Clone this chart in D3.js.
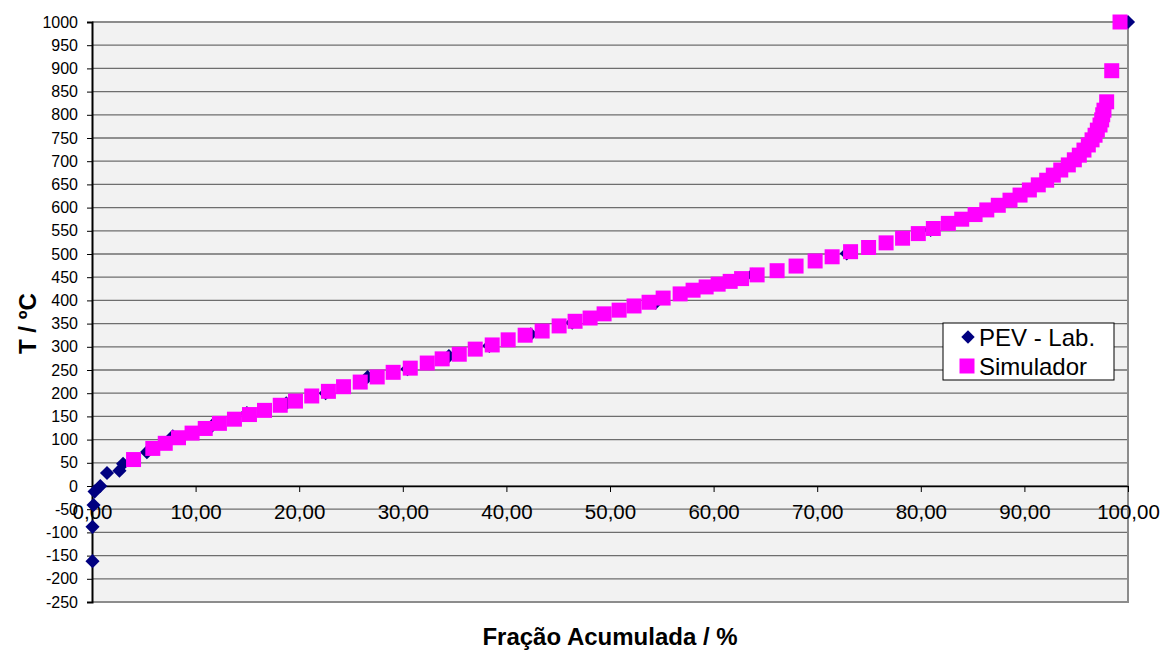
<!DOCTYPE html>
<html>
<head>
<meta charset="utf-8">
<script src="https://cdn.jsdelivr.net/npm/d3@7"></script>
<style>
    body { margin: 0; background: #fff; }
    svg { display: block; font-family: "Liberation Sans", Arial, sans-serif; }
</style>
</head>
<body>
<svg id="chart" width="1168" height="650"></svg>
<script>
// PEV (laboratório) - fração acumulada (%) x temperatura (ºC)
const pevFraction = [0.05, 0.05, 0.15, 0.25, 0.8, 1.45, 2.65, 3.0, 5.3, 7.8, 11.6, 14.95, 18.75, 22.55, 26.6, 30.45, 34.45, 38.35, 42.35, 46.35, 54.4, 63.75, 72.85, 80.95, 87.25, 100];
const pevTemp = [-162, -88, -41, -12, 0, 28, 33, 48, 73, 107, 130, 157, 178, 200, 235, 252, 280, 302, 327, 352, 395, 455, 501, 552, 605, 1000];

// Simulador
const simFraction = [4.01, 5.87, 7.07, 8.35, 9.66, 10.93, 12.30, 13.75, 15.20, 16.65,
    18.17, 19.64, 21.21, 22.82, 24.28, 25.89, 27.53, 29.07, 30.72, 32.36,
    33.80, 35.45, 36.99, 38.63, 40.17, 41.81, 43.45, 45.09, 46.63, 48.08,
    49.43, 50.88, 52.32, 53.77, 55.13, 56.77, 58.02, 59.28, 60.44, 61.60,
    62.70, 64.20, 66.13, 67.96, 69.80, 71.44, 73.22, 74.96, 76.65, 78.24,
    79.76, 81.21, 82.66, 83.95, 85.24, 86.37, 87.48, 88.61, 89.58, 90.48,
    91.34, 92.15, 92.79, 93.51, 94.24, 94.82, 95.30, 95.75, 96.17, 96.53,
    96.82, 97.04, 97.30, 97.46, 97.56, 97.68, 97.94, 98.43, 99.23];
const simTemp = [57, 81, 92, 104, 114, 124, 135, 144, 154, 163,
    174, 183, 194, 204, 214, 224, 235, 245, 254, 265,
    274, 284, 295, 304, 315, 325, 334, 345, 355, 362,
    371, 379, 388, 396, 405, 414, 422, 429, 435, 441,
    447, 455, 464, 474, 485, 494, 505, 514, 524, 534,
    544, 555, 566, 575, 585, 595, 605, 616, 627, 638,
    649, 659, 670, 681, 692, 703, 713, 724, 735, 746,
    756, 767, 778, 789, 800, 810, 828, 895, 1000];

const xTicks = d3.range(0, 101, 10);
const yTicks = d3.range(-250, 1001, 50);
const seriesNames = ['PEV - Lab.', 'Simulador'];

const W = 1168, H = 650;
const M = { top: 22, right: 40, bottom: 48, left: 92 };

const svg = d3.select('#chart');

const x = d3.scaleLinear().domain([0, 100]).range([M.left, W - M.right]);
const y = d3.scaleLinear().domain([-250, 1000]).range([H - M.bottom, M.top]);

// fundo da área de plotagem
svg.append('rect')
    .attr('x', x(0))
    .attr('y', y(1000))
    .attr('width', x(100) - x(0))
    .attr('height', y(-250) - y(1000))
    .attr('fill', '#f2f2f2');

// linhas de grade
svg.append('g')
    .selectAll('line')
    .data(yTicks)
    .join('line')
    .attr('x1', x(0))
    .attr('x2', x(100))
    .attr('y1', (d) => y(d))
    .attr('y2', (d) => y(d))
    .attr('stroke', '#6e6e6e')
    .attr('stroke-width', 1.3);

// bordas superior / direita / inferior
svg.append('path')
    .attr('d', `M${x(0)},${y(1000)}H${x(100)}V${y(-250)}H${x(0)}`)
    .attr('fill', 'none')
    .attr('stroke', '#8c8c8c')
    .attr('stroke-width', 2);

// eixo Y
const yAxis = svg.append('g')
    .attr('transform', `translate(${x(0)},0)`)
    .call(d3.axisLeft(y).tickValues(yTicks).tickSize(5).tickPadding(9).tickFormat((d) => String(d)));
yAxis.select('.domain').attr('stroke', '#000').attr('stroke-width', 2);
yAxis.selectAll('.tick line').attr('stroke', '#000');
yAxis.selectAll('text')
    .attr('font-size', 16)
    .attr('font-family', '"Liberation Sans", Arial, sans-serif')
    .attr('fill', '#000');

// eixo X (em y = 0)
const fmtX = (d) => d3.format('.2f')(d).replace('.', ',');
const xAxis = svg.append('g')
    .attr('transform', `translate(0,${y(0)})`)
    .call(d3.axisBottom(x).tickValues(xTicks).tickSize(6).tickSizeOuter(0).tickPadding(12).tickFormat(fmtX));
xAxis.select('.domain').attr('stroke', '#000').attr('stroke-width', 1.5);
xAxis.selectAll('.tick line').attr('stroke', '#000');
xAxis.selectAll('text')
    .attr('font-size', 20.5)
    .attr('font-family', '"Liberation Sans", Arial, sans-serif')
    .attr('fill', '#000');

// séries
const diamond = d3.symbol(d3.symbolSquare, 100);
const square = d3.symbol(d3.symbolSquare, 225);

const pevData = pevFraction.map((f, i) => ({ f, t: pevTemp[i] }));
const simData = simFraction.map((f, i) => ({ f, t: simTemp[i] }));

svg.append('g')
    .selectAll('path')
    .data(pevData)
    .join('path')
    .attr('d', diamond)
    .attr('transform', (d) => `translate(${x(d.f)},${y(d.t)}) rotate(45)`)
    .attr('fill', '#000080');

svg.append('g')
    .selectAll('path')
    .data(simData)
    .join('path')
    .attr('d', square)
    .attr('transform', (d) => `translate(${x(d.f)},${y(d.t)})`)
    .attr('fill', '#ff00ff');

// legenda
const legend = svg.append('g').attr('transform', 'translate(943,323)');
legend.append('rect')
    .attr('width', 171)
    .attr('height', 57)
    .attr('fill', '#fff')
    .attr('stroke', '#000')
    .attr('stroke-width', 1);

const item = legend.selectAll('g.item')
    .data(seriesNames)
    .join('g')
    .attr('class', 'item')
    .attr('transform', (d, i) => `translate(0,${14 + i * 29})`);

item.append('path')
    .attr('d', (d, i) => (i === 0 ? d3.symbol(d3.symbolSquare, 90)() : d3.symbol(d3.symbolSquare, 225)()))
    .attr('transform', (d, i) => (i === 0 ? 'translate(25,0) rotate(45)' : 'translate(24,0)'))
    .attr('fill', (d, i) => (i === 0 ? '#000080' : '#ff00ff'));

item.append('text')
    .attr('x', 36)
    .attr('y', 8.5)
    .attr('font-size', 24)
    .attr('fill', '#000')
    .text((d) => d);

// títulos dos eixos
svg.append('text')
    .attr('x', (x(0) + x(100)) / 2)
    .attr('y', 645)
    .attr('text-anchor', 'middle')
    .attr('font-size', 24)
    .attr('font-weight', 'bold')
    .text('Fração Acumulada / %');

svg.append('text')
    .attr('transform', `translate(36,${y(350)}) rotate(-90)`)
    .attr('text-anchor', 'middle')
    .attr('font-size', 24)
    .attr('font-weight', 'bold')
    .text('T / ºC');
</script>
</body>
</html>
